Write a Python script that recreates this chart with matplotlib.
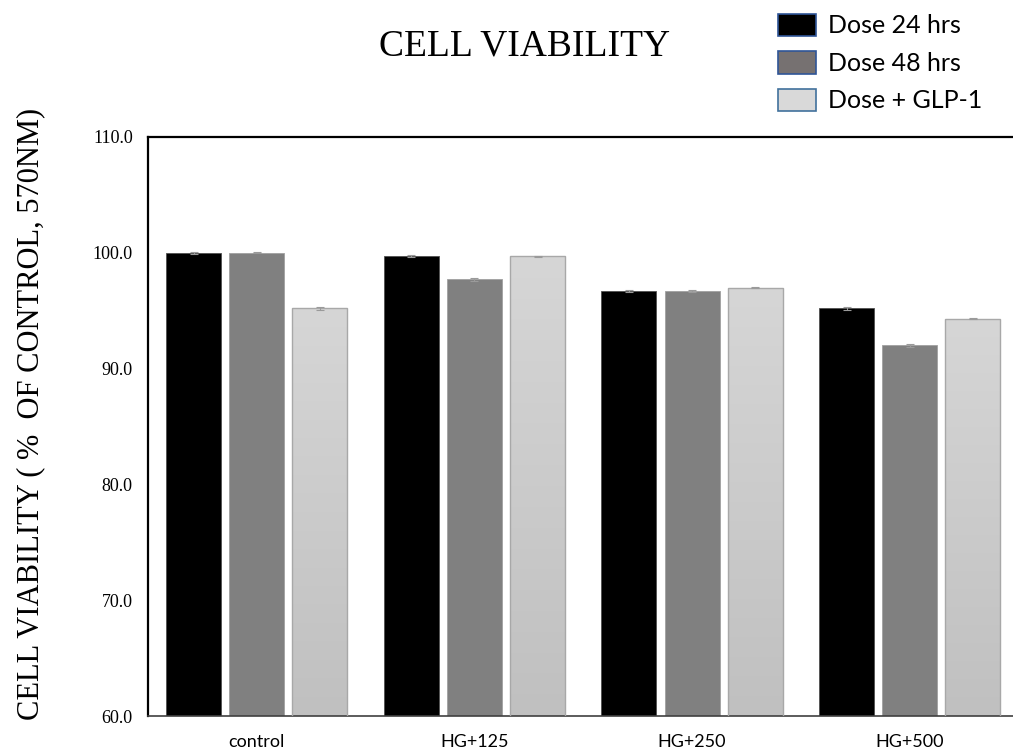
#!/usr/bin/env python3
"""Cell viability bar chart: three dose conditions per glucose group."""

import matplotlib
matplotlib.use("Agg")
import matplotlib.pyplot as plt
import numpy as np
from matplotlib.patches import Patch

GROUPS = ["control", "HG+125", "HG+250", "HG+500"]
SERIES = ["Dose 24 hrs", "Dose 48 hrs", "Dose + GLP-1"]
DOSE_24 = [100.0, 99.7, 96.7, 95.2]
DOSE_48 = [100.0, 97.7, 96.7, 92.0]
DOSE_GLP1 = [95.2, 99.7, 97.0, 94.3]
ERR_24 = [0.1, 0.1, 0.05, 0.1]
ERR_48 = [0.05, 0.1, 0.1, 0.15]
ERR_GLP1 = [0.15, 0.05, 0.05, 0.05]
Y_TICKS = [60, 70, 80, 90, 100, 110]

SERIF = "Liberation Serif"
SANS = "Lato"


def main() -> None:
    fig = plt.figure(figsize=(10.13, 7.51), dpi=100)
    ax = fig.add_axes([0.1461, 0.0466, 0.855, 0.771])

    x = np.arange(len(GROUPS))
    width = 0.253
    pitch = 0.29
    ax.bar(x - pitch, DOSE_24, width, color="#000000",
           edgecolor="#505050", linewidth=0.6, zorder=2)
    ax.bar(x, DOSE_48, width, color="#808080",
           edgecolor="#a0a0a0", linewidth=0.6, zorder=2)
    light = ax.bar(x + pitch, DOSE_GLP1, width, color="#cfcfcf",
                   edgecolor="#a8a8a8", linewidth=1.0, zorder=3)

    # vertical gradient on the light bars
    grad = np.linspace(0, 1, 256).reshape(-1, 1)
    cmap = matplotlib.colors.LinearSegmentedColormap.from_list(
        "g", ["#c0c0c0", "#d6d6d6"])
    for b in light:
        x0, w, h = b.get_x(), b.get_width(), b.get_height()
        im = ax.imshow(grad, cmap=cmap, aspect="auto", origin="lower",
                       extent=[x0, x0 + w, 60, h], zorder=2.5)
        im.set_clip_path(b)
        b.set_facecolor("none")

    ekw = dict(fmt="none", ecolor="#9a9a9a", elinewidth=0.8, capsize=3,
               capthick=0.8, zorder=4)
    ax.errorbar(x - pitch, DOSE_24, yerr=ERR_24, **ekw)
    ax.errorbar(x, DOSE_48, yerr=ERR_48, **ekw)
    ax.errorbar(x + pitch, DOSE_GLP1, yerr=ERR_GLP1, **ekw)

    ax.set_ylim(60, 110)
    ax.set_xlim(-0.5, 3.48)
    ax.set_yticks(Y_TICKS)
    ax.set_yticklabels([f"{v:.1f}" for v in Y_TICKS], fontfamily=SERIF,
                       fontsize=13)
    ax.set_xticks(x)
    ax.set_xticklabels(GROUPS, fontfamily=SANS, fontsize=13)
    ax.tick_params(axis="both", length=0)
    ax.tick_params(axis="y", pad=11)
    ax.tick_params(axis="x", pad=13)

    ax.spines["right"].set_visible(False)
    ax.spines["left"].set_linewidth(1.6)
    ax.spines["top"].set_linewidth(1.6)
    ax.spines["bottom"].set_color("#404040")
    ax.spines["bottom"].set_linewidth(1.2)

    fig.text(0.03, 0.449, "CELL VIABILITY ( %  OF CONTROL, 570NM)",
             rotation=90, ha="center", va="center", fontfamily=SERIF,
             fontsize=22)
    fig.text(0.518, 0.938, "CELL VIABILITY", ha="center", va="center",
             fontfamily=SERIF, fontsize=27)

    handles = [
        Patch(facecolor="#000000", edgecolor="#2f5597", linewidth=1.2),
        Patch(facecolor="#767171", edgecolor="#2f5597", linewidth=1.2),
        Patch(facecolor="#d9d9d9", edgecolor="#41719c", linewidth=1.2),
    ]
    fig.legend(handles, SERIES, loc="upper left",
               bbox_to_anchor=(0.751, 1.005), frameon=False,
               prop={"family": SANS, "size": 18}, handlelength=1.5,
               handleheight=1.0, labelspacing=0.55, handletextpad=0.5,
               borderaxespad=0.3)

    fig.savefig("out.png", dpi=100)
    plt.close(fig)


if __name__ == "__main__":
    main()
